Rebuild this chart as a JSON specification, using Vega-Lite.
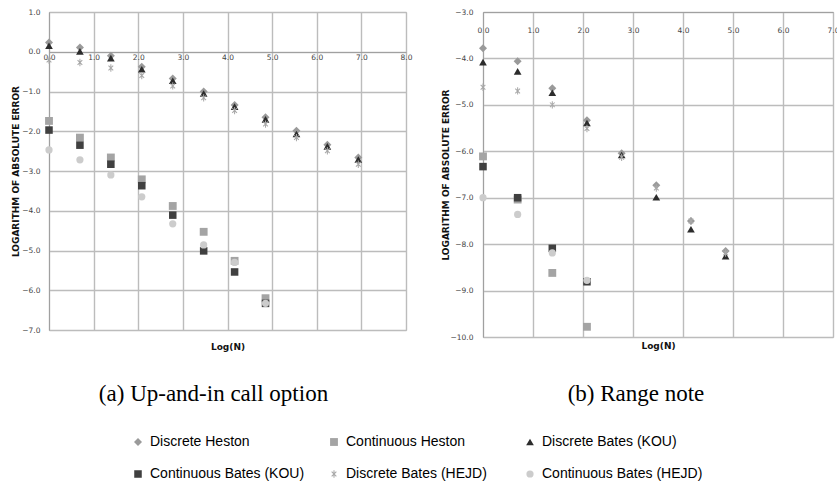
{
  "$schema": "https://vega.github.io/schema/vega-lite/v6.json",
  "padding": {"left": 10, "top": 7, "right": 0, "bottom": 0},
  "background": "white",
  "bounds": "flush",
  "spacing": 77,
  "config": {
    "view": {"stroke": "#bcbcbc", "strokeWidth": 1},
    "axis": {
      "labelFont": "DejaVu Sans", "labelFontSize": 7.5, "labelColor": "#444444",
      "titleFont": "DejaVu Sans", "titleFontSize": 9, "titleFontWeight": "bold", "titleColor": "#111111",
      "gridColor": "#bcbcbc", "gridWidth": 1.4, "domainColor": "#a0a0a0", "ticks": false,
      "format": ".1f", "labelFlush": false, "labelOverlap": false
    },
    "legend": {
      "orient": "none", "legendX": 82, "legendY": 423, "columns": 3, "direction": "horizontal",
      "gridAlign": "all", "columnPadding": 8, "rowPadding": 18, "labelLimit": 300,
      "labelFont": "Liberation Sans", "labelFontSize": 14, "labelColor": "#000000", "labelOffset": 5
    },
    "title": {"font": "Liberation Serif", "fontSize": 23, "fontWeight": "normal", "color": "#000000"}
  },
  "datasets": {
    "a": [
      {"series": "Discrete Heston", "x": 0.000, "y": 0.23},
      {"series": "Discrete Heston", "x": 0.693, "y": 0.11},
      {"series": "Discrete Heston", "x": 1.386, "y": -0.10},
      {"series": "Discrete Heston", "x": 2.079, "y": -0.38},
      {"series": "Discrete Heston", "x": 2.773, "y": -0.67},
      {"series": "Discrete Heston", "x": 3.466, "y": -1.00},
      {"series": "Discrete Heston", "x": 4.159, "y": -1.34},
      {"series": "Discrete Heston", "x": 4.852, "y": -1.65},
      {"series": "Discrete Heston", "x": 5.545, "y": -1.99},
      {"series": "Discrete Heston", "x": 6.238, "y": -2.34},
      {"series": "Discrete Heston", "x": 6.931, "y": -2.66},
      {"series": "Continuous  Heston", "x": 0.000, "y": -1.74},
      {"series": "Continuous  Heston", "x": 0.693, "y": -2.16},
      {"series": "Continuous  Heston", "x": 1.386, "y": -2.66},
      {"series": "Continuous  Heston", "x": 2.079, "y": -3.21},
      {"series": "Continuous  Heston", "x": 2.773, "y": -3.88},
      {"series": "Continuous  Heston", "x": 3.466, "y": -4.53},
      {"series": "Continuous  Heston", "x": 4.159, "y": -5.26},
      {"series": "Continuous  Heston", "x": 4.852, "y": -6.20},
      {"series": "Discrete Bates (KOU)", "x": 0.000, "y": 0.15},
      {"series": "Discrete Bates (KOU)", "x": 0.693, "y": 0.01},
      {"series": "Discrete Bates (KOU)", "x": 1.386, "y": -0.16},
      {"series": "Discrete Bates (KOU)", "x": 2.079, "y": -0.44},
      {"series": "Discrete Bates (KOU)", "x": 2.773, "y": -0.73},
      {"series": "Discrete Bates (KOU)", "x": 3.466, "y": -1.05},
      {"series": "Discrete Bates (KOU)", "x": 4.159, "y": -1.38},
      {"series": "Discrete Bates (KOU)", "x": 4.852, "y": -1.70},
      {"series": "Discrete Bates (KOU)", "x": 5.545, "y": -2.07},
      {"series": "Discrete Bates (KOU)", "x": 6.238, "y": -2.38},
      {"series": "Discrete Bates (KOU)", "x": 6.931, "y": -2.71},
      {"series": "Continuous  Bates  (KOU)", "x": 0.000, "y": -1.97},
      {"series": "Continuous  Bates  (KOU)", "x": 0.693, "y": -2.35},
      {"series": "Continuous  Bates  (KOU)", "x": 1.386, "y": -2.83},
      {"series": "Continuous  Bates  (KOU)", "x": 2.079, "y": -3.37},
      {"series": "Continuous  Bates  (KOU)", "x": 2.773, "y": -4.11},
      {"series": "Continuous  Bates  (KOU)", "x": 3.466, "y": -5.01},
      {"series": "Continuous  Bates  (KOU)", "x": 4.159, "y": -5.54},
      {"series": "Continuous  Bates  (KOU)", "x": 4.852, "y": -6.33},
      {"series": "Discrete Bates (HEJD)", "x": 0.000, "y": -0.21},
      {"series": "Discrete Bates (HEJD)", "x": 0.693, "y": -0.27},
      {"series": "Discrete Bates (HEJD)", "x": 1.386, "y": -0.41},
      {"series": "Discrete Bates (HEJD)", "x": 2.079, "y": -0.60},
      {"series": "Discrete Bates (HEJD)", "x": 2.773, "y": -0.86},
      {"series": "Discrete Bates (HEJD)", "x": 3.466, "y": -1.16},
      {"series": "Discrete Bates (HEJD)", "x": 4.159, "y": -1.48},
      {"series": "Discrete Bates (HEJD)", "x": 4.852, "y": -1.82},
      {"series": "Discrete Bates (HEJD)", "x": 5.545, "y": -2.16},
      {"series": "Discrete Bates (HEJD)", "x": 6.238, "y": -2.49},
      {"series": "Discrete Bates (HEJD)", "x": 6.931, "y": -2.83},
      {"series": "Continuous  Bates  (HEJD)", "x": 0.000, "y": -2.47},
      {"series": "Continuous  Bates  (HEJD)", "x": 0.693, "y": -2.72},
      {"series": "Continuous  Bates  (HEJD)", "x": 1.386, "y": -3.10},
      {"series": "Continuous  Bates  (HEJD)", "x": 2.079, "y": -3.65},
      {"series": "Continuous  Bates  (HEJD)", "x": 2.773, "y": -4.33},
      {"series": "Continuous  Bates  (HEJD)", "x": 3.466, "y": -4.86},
      {"series": "Continuous  Bates  (HEJD)", "x": 4.159, "y": -5.30},
      {"series": "Continuous  Bates  (HEJD)", "x": 4.852, "y": -6.33}
    ],
    "b": [
      {"series": "Discrete Heston", "x": 0.000, "y": -3.78},
      {"series": "Discrete Heston", "x": 0.693, "y": -4.06},
      {"series": "Discrete Heston", "x": 1.386, "y": -4.64},
      {"series": "Discrete Heston", "x": 2.079, "y": -5.33},
      {"series": "Discrete Heston", "x": 2.773, "y": -6.04},
      {"series": "Discrete Heston", "x": 3.466, "y": -6.73},
      {"series": "Discrete Heston", "x": 4.159, "y": -7.50},
      {"series": "Discrete Heston", "x": 4.852, "y": -8.15},
      {"series": "Continuous  Heston", "x": 0.000, "y": -6.11},
      {"series": "Continuous  Heston", "x": 0.693, "y": -7.04},
      {"series": "Continuous  Heston", "x": 1.386, "y": -8.62},
      {"series": "Continuous  Heston", "x": 2.079, "y": -9.78},
      {"series": "Discrete Bates (KOU)", "x": 0.000, "y": -4.08},
      {"series": "Discrete Bates (KOU)", "x": 0.693, "y": -4.28},
      {"series": "Discrete Bates (KOU)", "x": 1.386, "y": -4.74},
      {"series": "Discrete Bates (KOU)", "x": 2.079, "y": -5.39},
      {"series": "Discrete Bates (KOU)", "x": 2.773, "y": -6.08},
      {"series": "Discrete Bates (KOU)", "x": 3.466, "y": -6.99},
      {"series": "Discrete Bates (KOU)", "x": 4.159, "y": -7.68},
      {"series": "Discrete Bates (KOU)", "x": 4.852, "y": -8.26},
      {"series": "Continuous  Bates  (KOU)", "x": 0.000, "y": -6.33},
      {"series": "Continuous  Bates  (KOU)", "x": 0.693, "y": -7.00},
      {"series": "Continuous  Bates  (KOU)", "x": 1.386, "y": -8.09},
      {"series": "Continuous  Bates  (KOU)", "x": 2.079, "y": -8.81},
      {"series": "Discrete Bates (HEJD)", "x": 0.000, "y": -4.62},
      {"series": "Discrete Bates (HEJD)", "x": 0.693, "y": -4.70},
      {"series": "Discrete Bates (HEJD)", "x": 1.386, "y": -5.00},
      {"series": "Discrete Bates (HEJD)", "x": 2.079, "y": -5.51},
      {"series": "Discrete Bates (HEJD)", "x": 2.773, "y": -6.13},
      {"series": "Discrete Bates (HEJD)", "x": 3.466, "y": -6.79},
      {"series": "Discrete Bates (HEJD)", "x": 4.159, "y": -7.50},
      {"series": "Discrete Bates (HEJD)", "x": 4.852, "y": -8.19},
      {"series": "Continuous  Bates  (HEJD)", "x": 0.000, "y": -7.00},
      {"series": "Continuous  Bates  (HEJD)", "x": 0.693, "y": -7.36},
      {"series": "Continuous  Bates  (HEJD)", "x": 1.386, "y": -8.19},
      {"series": "Continuous  Bates  (HEJD)", "x": 2.079, "y": -8.78}
    ]
  },
  "hconcat": [
    {
      "width": 357, "height": 318,
      "data": {"name": "a"},
      "title": {"text": "(a) Up-and-in call option", "orient": "bottom", "anchor": "middle", "offset": 32, "dx": -14},
      "mark": {"type": "point", "filled": true, "opacity": 1},
      "encoding": {
        "x": {"field": "x", "type": "quantitative",
          "scale": {"domain": [0, 8], "nice": false, "zero": false},
          "axis": {"title": "Log(N)", "orient": "bottom", "offset": -278, "values": [0,1,2,3,4,5,6,7,8], "labelPadding": 1, "titleY": 294, "titleBaseline": "middle", "grid": true}},
        "y": {"field": "y", "type": "quantitative",
          "scale": {"domain": [-7, 1], "nice": false, "zero": false},
          "axis": {"title": "LOGARITHM OF ABSOLUTE ERROR", "values": [-7,-6,-5,-4,-3,-2,-1,0,1], "labelPadding": 9, "titleX": -34, "titleBaseline": "middle", "grid": true}},
        "color": {"field": "series", "type": "nominal",
          "scale": {"domain": ["Discrete Heston", "Continuous  Heston", "Discrete Bates (KOU)", "Continuous  Bates  (KOU)", "Discrete Bates (HEJD)", "Continuous  Bates  (HEJD)"],
                    "range": ["#9a9a9a", "#a4a4a4", "#2c2c2c", "#404040", "#a8a8a8", "#cccccc"]},
          "legend": {"title": null}},
        "shape": {"field": "series", "type": "nominal",
          "scale": {"domain": ["Discrete Heston", "Continuous  Heston", "Discrete Bates (KOU)", "Continuous  Bates  (KOU)", "Discrete Bates (HEJD)", "Continuous  Bates  (HEJD)"],
                    "range": ["diamond", "square", "triangle-up", "square", "M-0.14,-1L0.14,-1L0.14,1L-0.14,1ZM-0.74,-0.54L-0.54,-0.74L0.74,0.54L0.54,0.74ZM-0.54,0.74L-0.74,0.54L0.54,-0.74L0.74,-0.54Z", "circle"]},
          "legend": {"title": null}},
        "size": {"field": "series", "type": "nominal",
          "scale": {"domain": ["Discrete Heston", "Continuous  Heston", "Discrete Bates (KOU)", "Continuous  Bates  (KOU)", "Discrete Bates (HEJD)", "Continuous  Bates  (HEJD)"],
                    "range": [64, 52, 70, 85, 95, 64]},
          "legend": {"title": null}}
      }
    },
    {
      "width": 350, "height": 325,
      "data": {"name": "b"},
      "title": {"text": "(b) Range note", "orient": "bottom", "anchor": "middle", "offset": 32, "dx": -22},
      "mark": {"type": "point", "filled": true, "opacity": 1},
      "encoding": {
        "x": {"field": "x", "type": "quantitative",
          "scale": {"domain": [0, 7], "nice": false, "zero": false},
          "axis": {"title": "Log(N)", "orient": "bottom", "offset": -325, "values": [0,1,2,3,4,5,6,7], "labelPadding": 14, "titleY": 333.5, "titleBaseline": "middle", "grid": true}},
        "y": {"field": "y", "type": "quantitative",
          "scale": {"domain": [-10, -3], "nice": false, "zero": false},
          "axis": {"title": "LOGARITHM OF ABSOLUTE ERROR", "values": [-10,-9,-8,-7,-6,-5,-4,-3], "labelPadding": 10, "titleX": -38, "titleBaseline": "middle", "grid": true}},
        "color": {"field": "series", "type": "nominal",
          "scale": {"domain": ["Discrete Heston", "Continuous  Heston", "Discrete Bates (KOU)", "Continuous  Bates  (KOU)", "Discrete Bates (HEJD)", "Continuous  Bates  (HEJD)"],
                    "range": ["#9a9a9a", "#a4a4a4", "#2c2c2c", "#404040", "#a8a8a8", "#cccccc"]},
          "legend": {"title": null}},
        "shape": {"field": "series", "type": "nominal",
          "scale": {"domain": ["Discrete Heston", "Continuous  Heston", "Discrete Bates (KOU)", "Continuous  Bates  (KOU)", "Discrete Bates (HEJD)", "Continuous  Bates  (HEJD)"],
                    "range": ["diamond", "square", "triangle-up", "square", "M-0.14,-1L0.14,-1L0.14,1L-0.14,1ZM-0.74,-0.54L-0.54,-0.74L0.74,0.54L0.54,0.74ZM-0.54,0.74L-0.74,0.54L0.54,-0.74L0.74,-0.54Z", "circle"]},
          "legend": {"title": null}},
        "size": {"field": "series", "type": "nominal",
          "scale": {"domain": ["Discrete Heston", "Continuous  Heston", "Discrete Bates (KOU)", "Continuous  Bates  (KOU)", "Discrete Bates (HEJD)", "Continuous  Bates  (HEJD)"],
                    "range": [64, 52, 70, 85, 95, 64]},
          "legend": {"title": null}}
      }
    }
  ]
}
